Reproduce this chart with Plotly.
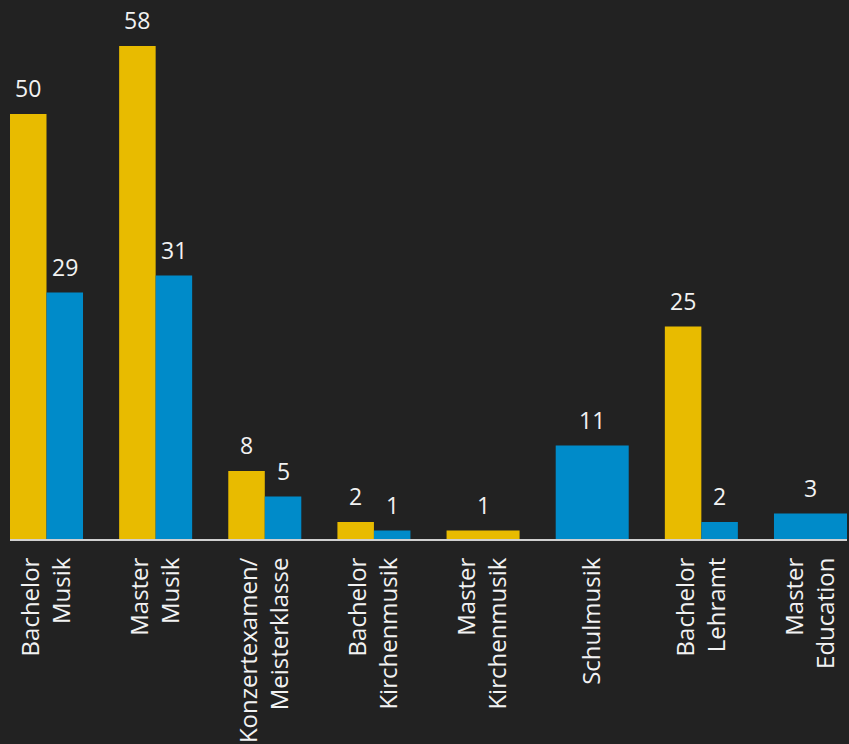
import plotly.graph_objects as go

# Study programmes (x categories) and the two series of counts
categories = [
    "Bachelor<br>Musik",
    "Master<br>Musik",
    "Konzertexamen/<br>Meisterklasse",
    "Bachelor<br>Kirchenmusik",
    "Master<br>Kirchenmusik",
    "Schulmusik",
    "Bachelor<br>Lehramt",
    "Master<br>Education",
]
series_yellow = [50, 58, 8, 2, 1, None, 25, None]
series_blue = [29, 31, 5, 1, None, 11, 2, 3]

# Styling
BG = "#222222"
YELLOW = "#E8BB00"
BLUE = "#008BC9"
TEXT = "#F2F2F2"
FONT = "Open Sans"
GROUP = 0.669          # width of one category group, in category units
PX_PER_UNIT = 8.5      # vertical scale used to size the y range
PLOT_H = 539

fig = go.Figure()


def layout_series(values, other, side):
    """Place bars: half-width beside the partner bar, full width when alone."""
    xs, ws, ys = [], [], []
    for i, (v, o) in enumerate(zip(values, other)):
        if v is None:
            continue
        if o is None:
            xs.append(i)
            ws.append(GROUP)
        else:
            xs.append(i + side * GROUP / 4)
            ws.append(GROUP / 2)
        ys.append(v)
    return xs, ws, ys


annotations = []
for vals, other, side, color, name in [
    (series_yellow, series_blue, -1, YELLOW, "Serie A"),
    (series_blue, series_yellow, 1, BLUE, "Serie B"),
]:
    xs, ws, ys = layout_series(vals, other, side)
    fig.add_trace(
        go.Bar(
            x=xs, y=ys, width=ws, name=name,
            marker=dict(color=color, line=dict(width=0)),
            hoverinfo="y",
        )
    )
    for x, y in zip(xs, ys):
        annotations.append(
            dict(
                x=x, y=y, text=str(y), showarrow=False,
                xanchor="center", yanchor="bottom", yshift=8,
                font=dict(family=FONT, size=23, color=TEXT),
            )
        )

fig.update_layout(
    width=849,
    height=744,
    paper_bgcolor=BG,
    plot_bgcolor=BG,
    barmode="overlay",
    showlegend=False,
    margin=dict(l=10, r=2, t=0, b=205),
    annotations=annotations,
    xaxis=dict(
        tickmode="array",
        tickvals=list(range(len(categories))),
        ticktext=categories,
        tickangle=-90,
        range=[-GROUP / 2, len(categories) - 1 + GROUP / 2],
        showgrid=False,
        zeroline=False,
        showline=True,
        linecolor="#D0D0D0",
        linewidth=2,
        ticks="",
        ticklabelstandoff=7,
        tickfont=dict(family=FONT, size=24, color=TEXT),
    ),
    yaxis=dict(
        range=[0, PLOT_H / PX_PER_UNIT],
        showgrid=False,
        zeroline=False,
        showticklabels=False,
        ticks="",
    ),
)

fig.write_html("out.html")
